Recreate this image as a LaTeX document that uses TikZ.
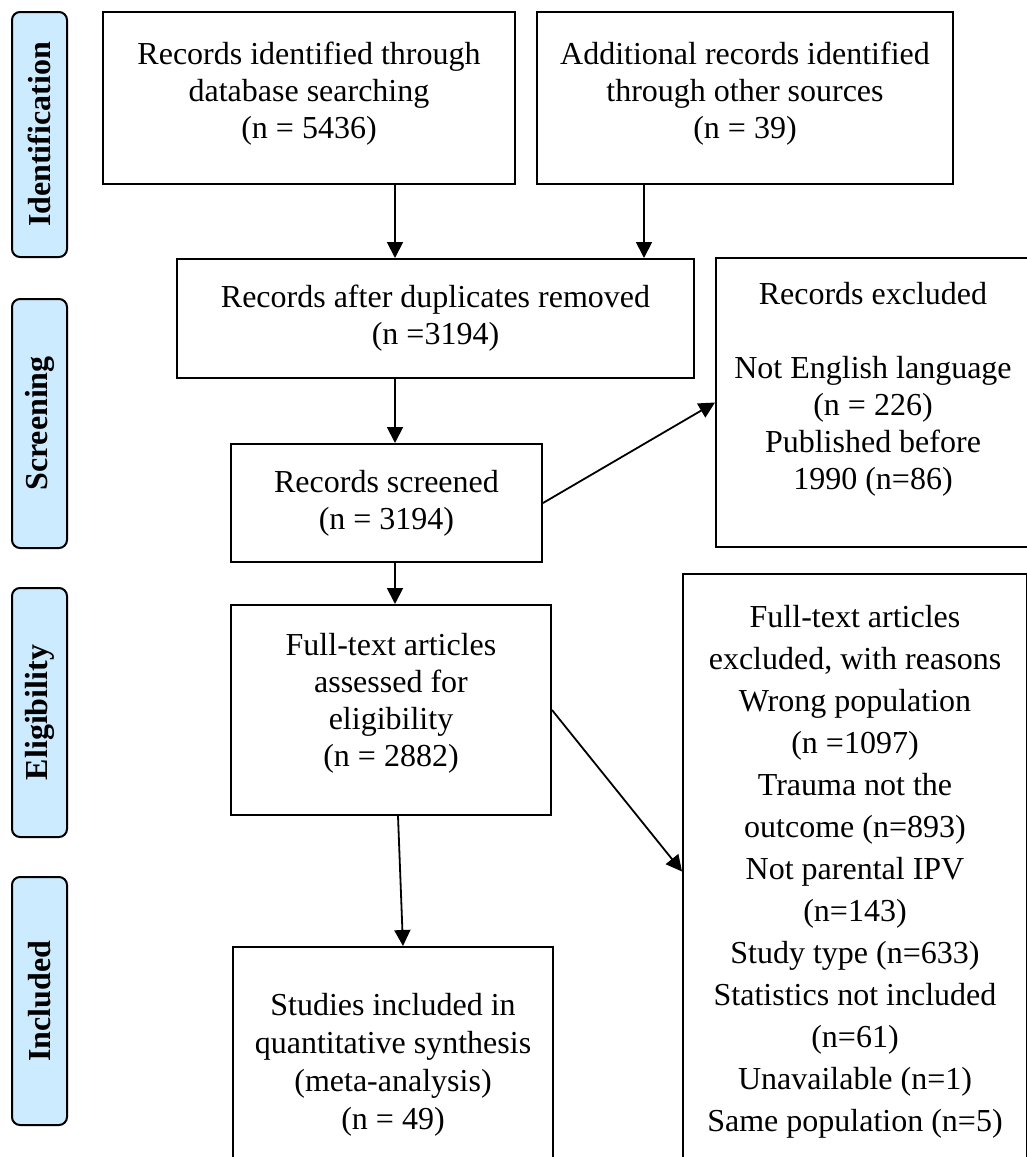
\documentclass[tikz,border=0pt]{standalone}
\usepackage{fontspec}
\setmainfont{Liberation Serif}
\usetikzlibrary{arrows.meta,positioning}
\definecolor{phase}{HTML}{CCEBFF}

\tikzset{
  stage/.style={draw, line width=1pt, rounded corners=4pt, fill=phase, rotate=90,
    minimum height=27.5pt, inner sep=0pt, font=\fontsize{16}{18}\selectfont\bfseries},
  box/.style={draw, line width=1pt, align=center, inner sep=0pt,
    font=\fontsize{16}{18.5}\selectfont},
  flow/.style={-{Triangle[length=8pt,width=8pt]}, line width=0.9pt}
}

\begin{document}
\begin{tikzpicture}[x=0.5pt,y=-0.5pt]
\useasboundingbox (0,0) rectangle (1027,1157);
\clip (0,0) rectangle (1027,1157);

% phases down the left side
\node[stage, minimum width=122.5pt] (ident) at (39.5,134.5) {Identification};
\node[stage, minimum width=124.5pt] (screen) at (39.5,423.5) {Screening};
\node[stage, minimum width=124.5pt] (elig) at (39.5,712.5) {Eligibility};
\node[stage, minimum width=124pt] (incl) at (39.5,1001) {Included};

% flow boxes
\node[box, minimum width=206pt, minimum height=86pt, text depth=8pt] (dbrec) at (309,98) {Records identified through\\database searching\\(n = 5436)};
\node[box, minimum width=208pt, minimum height=86pt, text depth=8pt] (otherrec) at (745,98) {Additional records identified\\through other sources\\(n = 39)};
\node[box, minimum width=258.5pt, minimum height=59.5pt] (dedup) at (435.5,318.5) {Records after duplicates removed\\(n =3194)};
\node[box, minimum width=157pt, minimum height=144.5pt, text depth=17pt] (excl1) at (873,402.5) {Records excluded\\[18.5pt]Not English language\\(n = 226)\\Published before\\1990 (n=86)};
\node[box, minimum width=155.5pt, minimum height=59pt] (screened) at (386.5,503) {Records screened\\(n = 3194)};
\node[box, minimum width=160pt, minimum height=105pt, text depth=10pt] (fulltext) at (391,710) {Full-text articles\\assessed for\\eligibility\\(n = 2882)};
\node[box, minimum width=172pt, minimum height=298pt, font=\fontsize{16}{21}\selectfont] (excl2) at (855,871.5) {Full-text articles\\excluded, with reasons\\Wrong population\\(n =1097)\\Trauma not the\\outcome (n=893)\\Not parental IPV\\(n=143)\\Study type (n=633)\\Statistics not included\\(n=61)\\Unavailable (n=1)\\Same population (n=5)};
\node[box, minimum width=160pt, minimum height=118pt, font=\fontsize{16}{19}\selectfont] (studies) at (393,1065) {Studies included in\\quantitative synthesis\\(meta-analysis)\\(n = 49)};

% arrows
\coordinate (leftspine) at (395,0);
\coordinate (rightspine) at (644,0);
\draw[flow] (dbrec.south -| leftspine) -- (dedup.north -| leftspine);
\draw[flow] (otherrec.south -| rightspine) -- (dedup.north -| rightspine);
\draw[flow] (dedup.south -| leftspine) -- (screened.north -| leftspine);
\draw[flow] (screened.east) -- (excl1.west);
\draw[flow] (screened.south -| leftspine) -- (fulltext.north -| leftspine);
\draw[flow] (fulltext.east) -- (excl2.west);
\draw[flow] ([xshift=3.5pt]fulltext.south) -- ([xshift=5pt]studies.north);
\end{tikzpicture}
\end{document}
